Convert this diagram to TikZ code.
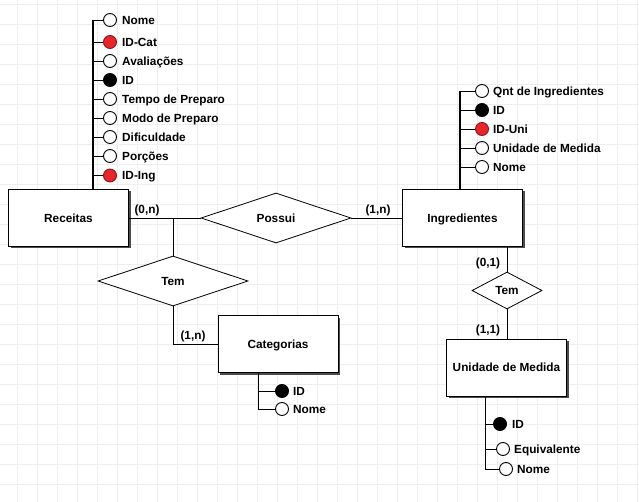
\documentclass[tikz,border=0pt]{standalone}
\usepackage{fontspec}
\setmainfont{Liberation Sans}
\usetikzlibrary{shapes.geometric,shadows}
\definecolor{fkred}{HTML}{E5262B}
\definecolor{gridc}{HTML}{EEEEEE}
\begin{document}
\begin{tikzpicture}[x=1pt,y=-1pt,
 txt/.style={font=\bfseries\fontsize{11.8}{13}\selectfont, inner sep=0pt, text height=8.5pt, text depth=0pt},
 ent/.style={draw, line width=1pt, fill=white, minimum width=120pt, minimum height=57pt, txt,
   drop shadow={shadow xshift=2pt,shadow yshift=-2pt,fill=black!70,opacity=1}},
 rel/.style={draw, line width=0.8pt, diamond, fill=white, txt},
 attr/.style={circle, draw, line width=0.9pt, minimum size=13pt, inner sep=0pt, fill=white},
 pk/.style={attr, fill=black},
 fk/.style={attr, fill=fkred, draw=fkred!60!black},
 ln/.style={line width=0.9pt},
 spine/.style={line width=1.4pt},
 lab/.style={txt, anchor=west},
 card/.style={txt}]
\useasboundingbox (0,0) rectangle (639,502);
\fill[white] (0,0) rectangle (639,502);
\foreach \x in {17,37,...,637} \draw[gridc, line width=0.7pt] (\x,0) -- (\x,502);
\foreach \y in {4,24,...,500} \draw[gridc, line width=0.7pt] (0,\y) -- (639,\y);

% entities
\node[ent] (rec) at (68.5,218) {Receitas};
\node[ent] (ing) at (462.5,218) {Ingredientes};
\node[ent] (cat) at (278,344) {Categorias};
\node[ent] (uni) at (506.5,367.5) {Unidade de Medida};

% relationships
\node[rel, minimum width=150pt, minimum height=50pt] (pos) at (276,218) {Possui};
\node[rel, minimum width=150pt, minimum height=50pt] (tem1) at (173,281) {Tem};
\node[rel, minimum width=70pt, minimum height=37pt] (tem2) at (507,290.5) {Tem};

% connectors
\draw[ln] (rec.east) -- (pos.west);
\draw[ln] (pos.east) -- (ing.west);
\coordinate (j1) at (173,218);
\draw[ln] (j1) -- (tem1.north);
\draw[ln] (tem1.south) |- (cat.west);
\draw[ln] (tem2.north |- ing.south) -- (tem2.north);
\draw[ln] (tem2.south) -- (tem2.south |- uni.north);

% cardinalities
\node[card] (c1) at (147,209) {(0,n)};
\node[card] (c2) at (378,209) {(1,n)};
\node[card] (c3) at (193,335) {(1,n)};
\node[card] (c4) at (488,262) {(0,1)};
\node[card] (c5) at (488,329) {(1,1)};

% Receitas attributes
\coordinate (rs) at (93,20);
\draw[spine] (rs) -- (rs |- rec.north);
\foreach \n/\y/\s/\t in {1/20/attr/Nome, 2/42/fk/ID-Cat, 3/61/attr/Avaliações, 4/80/pk/ID,
  5/99/attr/Tempo de Preparo, 6/118/attr/Modo de Preparo, 7/137/attr/Dificuldade,
  8/156/attr/Porções, 9/175.5/fk/ID-Ing} {
  \node[\s] (r\n) at (110,\y) {};
  \node[lab] (rt\n) at (122,\y) {\t};
  \draw[ln] (rs |- r\n) -- (r\n.west);
}

% Ingredientes attributes
\coordinate (is) at (460,91);
\draw[spine] (is) -- (is |- ing.north);
\foreach \n/\y/\s/\t in {1/91/attr/Qnt de Ingredientes, 2/110/pk/ID, 3/129/fk/ID-Uni,
  4/148/attr/Unidade de Medida, 5/167/attr/Nome} {
  \node[\s] (i\n) at (482,\y) {};
  \node[lab] (it\n) at (493,\y) {\t};
  \draw[ln] (is |- i\n) -- (i\n.west);
}

% Categorias attributes
\coordinate (cs) at (258,409);
\draw[ln] (cs |- cat.south) -- (cs);
\node[pk] (ca1) at (282,391) {};
\node[lab] (cat1) at (293,391) {ID};
\node[attr] (ca2) at (282,409) {};
\node[lab] (cat2) at (293,409) {Nome};
\draw[ln] (cs |- ca1) -- (ca1.west);
\draw[ln] (cs |- ca2) -- (ca2.west);

% Unidade de Medida attributes
\coordinate (us) at (485,469);
\draw[ln] (us |- uni.south) -- (us);
\node[pk] (u1) at (500,424) {};
\node[lab] (ut1) at (512,424) {ID};
\node[attr] (u2) at (503,449) {};
\node[lab] (ut2) at (514,449) {Equivalente};
\node[attr] (u3) at (506,469) {};
\node[lab] (ut3) at (517,469) {Nome};
\draw[ln] (us |- u1) -- (u1.west);
\draw[ln] (us |- u2) -- (u2.west);
\draw[ln] (us |- u3) -- (u3.west);
\end{tikzpicture}
\end{document}
